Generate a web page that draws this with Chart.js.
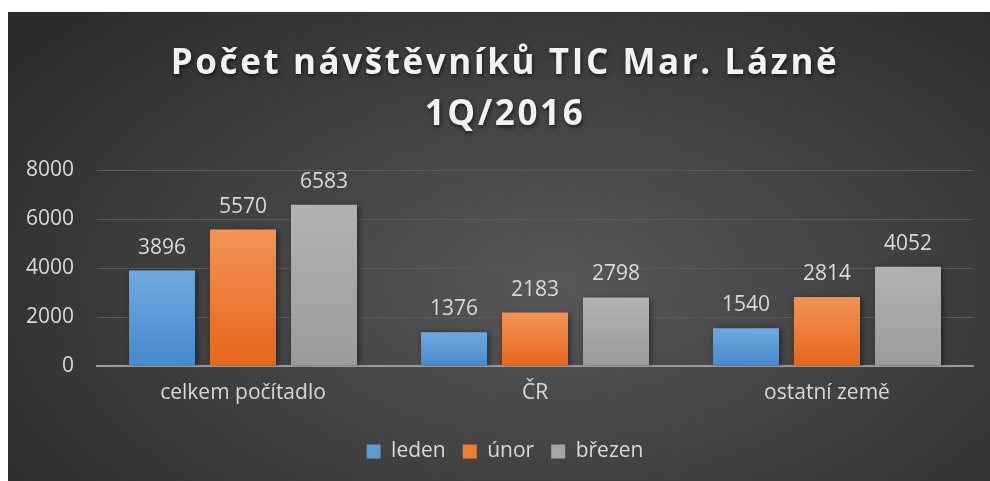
<!DOCTYPE html>
<html>
<head>
<meta charset="utf-8">
<script src="https://cdn.jsdelivr.net/npm/chart.js@4/dist/chart.umd.min.js"></script>
<style>
  html, body { margin: 0; padding: 0; background: #fff; overflow: hidden; }
  #panel {
    position: absolute; left: 8px; top: 12px; width: 994px; height: 469px;
    background: radial-gradient(ellipse 70% 85% at 55% 58%, #585858 0%, #454545 40%, #2a2a2a 100%);
  }
  canvas { display: block; }
</style>
</head>
<body>
<div id="panel"><canvas id="chart" width="994" height="469"></canvas></div>
<script>
const categories = ['celkem počítadlo', 'ČR', 'ostatní země'];
const seriesNames = ['leden', 'únor', 'březen'];
const leden = [3896, 1376, 1540];
const unor = [5570, 2183, 2814];
const brezen = [6583, 2798, 4052];
const yTicks = [0, 2000, 4000, 6000, 8000];

const titleLines = ['Počet návštěvníků TIC Mar. Lázně', '1Q/2016'];
const solid = ['#5b9bd5', '#ed7d31', '#a5a5a5'];
const grad = [['#70a9e0', '#4689cc'], ['#f39358', '#e6661a'], ['#b2b2b2', '#9b9b9b']];
const font = '"Open Sans", "DejaVu Sans", sans-serif';
const textColor = '#d9d9d9';

function barFill(i) {
    return function(ctx) {
        const chart = ctx.chart;
        if (ctx.type !== 'data' || !chart.chartArea) return solid[i];
        const y = chart.scales.y;
        const top = y.getPixelForValue(ctx.raw);
        const base = y.getPixelForValue(0);
        const g = chart.ctx.createLinearGradient(0, top, 0, base);
        g.addColorStop(0, grad[i][0]);
        g.addColorStop(1, grad[i][1]);
        return g;
    };
}

// shadow under bars + value labels
const barShadow = {
    id: 'barShadow',
    beforeDatasetsDraw(chart) {
        const c = chart.ctx;
        c.save();
        c.shadowColor = 'rgba(0,0,0,0.45)';
        c.shadowBlur = 6;
        c.shadowOffsetX = 2;
        c.shadowOffsetY = 1;
    },
    afterDatasetsDraw(chart) {
        chart.ctx.restore();
        const c = chart.ctx;
        c.save();
        c.font = '21px ' + font;
        c.fillStyle = textColor;
        c.textAlign = 'center';
        c.textBaseline = 'alphabetic';
        chart.data.datasets.forEach((ds, di) => {
            chart.getDatasetMeta(di).data.forEach((bar, i) => {
                c.fillText(String(ds.data[i]), bar.x, bar.y - 17);
            });
        });
        c.restore();
    }
};

// title with letter spacing and shadow
const spacedTitle = {
    id: 'spacedTitle',
    afterDraw(chart) {
        const c = chart.ctx;
        c.save();
        c.font = 'bold 35px ' + font;
        c.letterSpacing = '2.6px';
        c.fillStyle = '#f2f2f2';
        c.textAlign = 'center';
        c.textBaseline = 'middle';
        c.shadowColor = 'rgba(0,0,0,0.6)';
        c.shadowBlur = 4;
        c.shadowOffsetX = 1;
        c.shadowOffsetY = 2;
        const cx = chart.width / 2;
        c.fillText(titleLines[0], cx, 52);
        c.fillText(titleLines[1], cx, 103);
        c.restore();
    }
};

new Chart(document.getElementById('chart'), {
    type: 'bar',
    data: {
        labels: categories,
        datasets: [
            { label: seriesNames[0], data: leden, backgroundColor: barFill(0) },
            { label: seriesNames[1], data: unor, backgroundColor: barFill(1) },
            { label: seriesNames[2], data: brezen, backgroundColor: barFill(2) }
        ]
    },
    options: {
        responsive: false,
        animation: false,
        datasets: { bar: { barPercentage: 0.815, categoryPercentage: 0.832 } },
        layout: { padding: { top: 158, right: 0, left: 0, bottom: 9 } },
        scales: {
            x: {
                grid: { display: false, drawTicks: false },
                border: { display: true, color: '#9a9a9a', width: 2 },
                ticks: { color: textColor, font: { family: font, size: 21 }, padding: 14 },
                afterFit: s => { s.height = 58; }
            },
            y: {
                min: 0, max: 8000,
                afterBuildTicks: s => { s.ticks = yTicks.map(v => ({ value: v })); },
                grid: { color: '#5a5a5a', lineWidth: 1, drawTicks: false },
                border: { display: false },
                ticks: {
                    color: textColor, font: { family: font, size: 21 }, padding: 23,
                    callback: v => String(v)
                },
                afterFit: s => { s.width = 89; }
            },
            // empty right-hand spacer so the plot ends where the reference does
            spacer: {
                type: 'linear', position: 'right', display: true,
                grid: { display: false, drawTicks: false },
                border: { display: false },
                ticks: { display: false },
                afterFit: s => { s.width = 29; }
            }
        },
        plugins: {
            title: { display: false },
            tooltip: { enabled: false },
            legend: {
                position: 'bottom',
                labels: {
                    color: textColor,
                    font: { family: font, size: 21 },
                    boxWidth: 14, boxHeight: 14, padding: 17,
                    generateLabels: chart => chart.data.datasets.map((ds, i) => ({
                        text: ds.label, fillStyle: solid[i], strokeStyle: solid[i],
                        lineWidth: 0, hidden: false, datasetIndex: i, fontColor: textColor
                    }))
                }
            }
        }
    },
    plugins: [barShadow, spacedTitle]
});
</script>
</body>
</html>
